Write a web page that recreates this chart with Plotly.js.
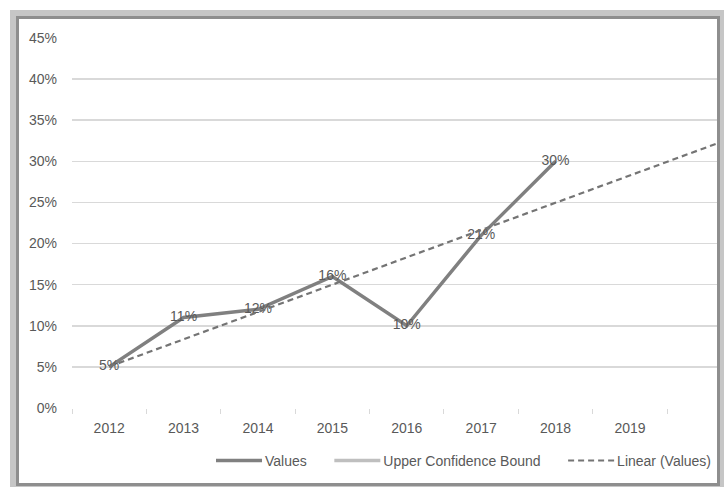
<!DOCTYPE html>
<html>
<head>
<meta charset="utf-8">
<script src="https://cdn.plot.ly/plotly-3.0.1.min.js"></script>
<style>
  html, body { margin:0; padding:0; background:#ffffff; width:724px; height:487px; overflow:hidden; }
  #outer { position:absolute; left:10px; top:10px; width:714px; height:477px; background:#c6c6c6; }
  #inner { position:absolute; left:16px; top:16px; width:698px; height:464px; border:3px solid #8e8e8e; background:#ffffff; }
  #chart { position:absolute; left:0; top:0; width:724px; height:487px; }
</style>
</head>
<body>
<div id="outer"></div>
<div id="inner"></div>
<div id="chart"></div>
<script>
// Data
const years = [2012, 2013, 2014, 2015, 2016, 2017, 2018];
const values = [5, 11, 12, 16, 10, 21, 30];          // percent
const upperBound = [null, null, null, null, null, null, null];
const seriesNames = ['Values', 'Upper Confidence Bound', 'Linear (Values)'];
const xTickVals = [2012, 2013, 2014, 2015, 2016, 2017, 2018, 2019];
const xTickText = ['2012', '2013', '2014', '2015', '2016', '2017', '2018', '2019'];
const yTickVals = [0, 5, 10, 15, 20, 25, 30, 35, 40, 45];
const yTickText = ['0%', '5%', '10%', '15%', '20%', '25%', '30%', '35%', '40%', '45%'];
const trendX = [2012, 2021];

// Linear trendline (least squares on the values), as Excel draws it
const n = years.length;
const mx = years.reduce((a, b) => a + b, 0) / n;
const my = values.reduce((a, b) => a + b, 0) / n;
let sxy = 0, sxx = 0;
for (let i = 0; i < n; i++) { sxy += (years[i] - mx) * (values[i] - my); sxx += (years[i] - mx) ** 2; }
const slope = sxy / sxx;
const trendY = trendX.map(x => my + slope * (x - mx));

const font = "'Liberation Sans Narrow', 'Liberation Sans', sans-serif";
const txt = '#595959';
const pad = '\u00A0\u00A0\u00A0\u00A0';

const traces = [
  {
    x: years, y: values, name: seriesNames[0] + pad, type: 'scatter', mode: 'lines+text',
    line: { color: '#808080', width: 3.5 },
    text: values.map(v => v + '%'), textposition: 'middle center',
    textfont: { family: font, size: 14, color: txt },
    cliponaxis: false, hoverinfo: 'skip'
  },
  {
    x: years, y: upperBound, name: seriesNames[1] + pad, type: 'scatter', mode: 'lines',
    line: { color: '#bfbfbf', width: 3.5 }, hoverinfo: 'skip'
  },
  {
    x: trendX, y: trendY, name: seriesNames[2], type: 'scatter', mode: 'lines',
    line: { color: '#747474', width: 2.2, dash: '6px,4px' }, hoverinfo: 'skip'
  }
];

const layout = {
  width: 724, height: 487,
  margin: { l: 72, r: 7, t: 38, b: 79 },
  paper_bgcolor: 'rgba(0,0,0,0)',
  plot_bgcolor: 'rgba(0,0,0,0)',
  font: { family: font, size: 14, color: txt },
  showlegend: true,
  legend: {
    orientation: 'h', x: 1, xanchor: 'right', y: -0.143, yanchor: 'middle',
    font: { family: font, size: 14, color: txt },
    bgcolor: 'rgba(0,0,0,0)', itemwidth: 46, tracegroupgap: 0
  },
  xaxis: {
    range: [2011.5, 2020.17],
    tickmode: 'array', tickvals: xTickVals, ticktext: xTickText,
    ticks: '', showgrid: false, zeroline: false,
    showline: false, ticklabelstandoff: 10,
    tickfont: { family: font, size: 14, color: txt },
    minor: { tickmode: 'linear', tick0: 2011.5, dtick: 1, ticks: 'outside', ticklen: 5, tickcolor: '#d9d9d9', tickwidth: 1, showgrid: false },
    fixedrange: true
  },
  yaxis: {
    range: [0, 45],
    tickmode: 'array', tickvals: yTickVals, ticktext: yTickText,
    showgrid: true, gridcolor: '#d9d9d9', gridwidth: 1.5,
    zeroline: false, showline: false, ticks: '',
    ticklabelstandoff: 14,
    tickfont: { family: font, size: 14, color: txt },
    fixedrange: true
  }
};

Plotly.newPlot('chart', traces, layout, { staticPlot: true, displayModeBar: false }).then(gd => {
  // lengthen the legend line samples to match the Excel-style legend
  gd.querySelectorAll('.legend .legendlines path').forEach(p => p.setAttribute('d', 'M7,0h46'));
});
</script>
</body>
</html>
